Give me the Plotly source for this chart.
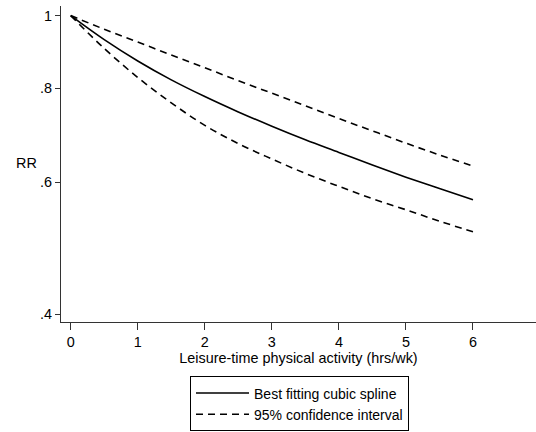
import plotly.graph_objects as go

# Leisure-time physical activity (hrs/wk)
activity = [0, 0.5, 1, 1.5, 2, 2.5, 3, 3.5, 4, 4.5, 5, 5.5, 6]
# Relative risk: best fitting cubic spline
rr_fit = [1.0, 0.929, 0.870, 0.821, 0.780, 0.744, 0.712, 0.683, 0.657, 0.632, 0.609, 0.588, 0.568]
# 95% confidence interval
rr_upper = [1.0, 0.959, 0.922, 0.886, 0.852, 0.819, 0.788, 0.758, 0.729, 0.702, 0.676, 0.652, 0.630]
rr_lower = [1.0, 0.904, 0.827, 0.765, 0.714, 0.675, 0.644, 0.616, 0.592, 0.570, 0.551, 0.532, 0.515]

y_tickvals = [0.4, 0.6, 0.8, 1.0]
y_ticktext = [".4", ".6", ".8", "1"]
x_tickvals = [0, 1, 2, 3, 4, 5, 6]

FONT = "Liberation Sans, Arial, sans-serif"
DASH = "7px,5px"

fig = go.Figure()
fig.add_trace(go.Scatter(x=activity, y=rr_fit, mode="lines", name="Best fitting cubic spline",
                         line=dict(color="black", width=1.6, shape="spline")))
fig.add_trace(go.Scatter(x=activity, y=rr_upper, mode="lines", name="95% confidence interval",
                         line=dict(color="black", width=1.6, dash=DASH, shape="spline")))
fig.add_trace(go.Scatter(x=activity, y=rr_lower, mode="lines", name="95% confidence interval",
                         showlegend=False,
                         line=dict(color="black", width=1.6, dash=DASH, shape="spline")))

fig.update_layout(
    width=536, height=432,
    margin=dict(l=61, r=0, t=6, b=107),
    paper_bgcolor="white", plot_bgcolor="white",
    font=dict(family=FONT, size=14.4, color="black"),
    xaxis=dict(range=[-0.145, 6.94], tickvals=x_tickvals, ticks="outside", ticklen=7,
               tickcolor="#333", showline=True, linecolor="#333", linewidth=1,
               showgrid=False, zeroline=False,
               title=dict(text="Leisure-time physical activity (hrs/wk)", standoff=3,
                          font=dict(size=14.4))),
    yaxis=dict(type="log", range=[-0.4085, 0.0128], tickvals=y_tickvals, ticktext=y_ticktext,
               ticks="outside", ticklen=5, tickcolor="#333", showline=True, linecolor="#333",
               linewidth=1, showgrid=False, zeroline=False),
    legend=dict(x=0.2716, y=-0.1723, xanchor="left", yanchor="top",
                bordercolor="black", borderwidth=1, font=dict(size=14),
                itemwidth=53, tracegroupgap=0),
    showlegend=True,
    annotations=[dict(text="RR", x=-0.0716, y=0.5016, xref="paper", yref="paper",
                      showarrow=False, font=dict(size=14.4), xanchor="center", yanchor="middle")],
)

fig.write_html("out.html")
